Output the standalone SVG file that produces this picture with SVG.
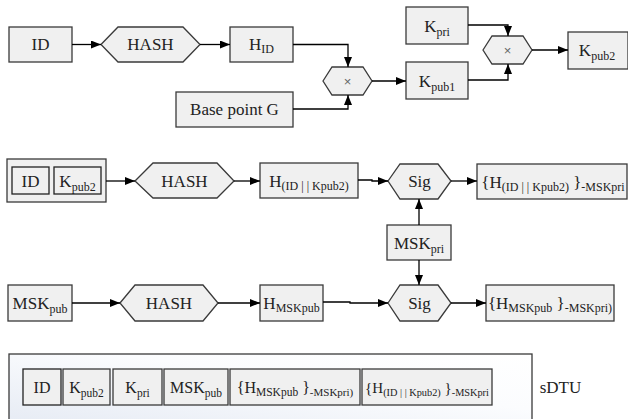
<svg xmlns="http://www.w3.org/2000/svg" width="628" height="419" viewBox="0 0 628 419">
  <defs>
    <marker id="arr" viewBox="0 0 10 8" refX="10" refY="4" markerWidth="10" markerHeight="8" markerUnits="userSpaceOnUse" orient="auto">
      <path d="M0,0 L10,4 L0,8 Z" fill="#000"/>
    </marker>
    <linearGradient id="pane" x1="0" y1="1" x2="1" y2="0">
      <stop offset="0" stop-color="#e6ebf4"/>
      <stop offset="0.6" stop-color="#fbfcfe"/>
      <stop offset="1" stop-color="#ffffff"/>
    </linearGradient>
  </defs>
  <style>
    .box { fill: #f0f0f0; stroke: #3a3a3a; stroke-width: 1.3; }
    .inner { fill: #f0f0f0; stroke: #222; stroke-width: 1.3; }
    .hex { fill: #f0f0f0; stroke: #3a3a3a; stroke-width: 1.3; }
    .wire { fill: none; stroke: #000; stroke-width: 1.3; marker-end: url(#arr); }
  </style>

  <!-- all labels share one serif face, centred on their node -->
  <g font-family="Liberation Serif" font-size="17" fill="#222" text-anchor="middle">
  <!-- key derivation -->
  <g id="id1">
    <rect class="box" x="9" y="27" width="63" height="35"/>
    <text x="40.5" y="50">ID</text>
  </g>
  <g id="hash1">
    <polygon class="hex" points="101,44.5 118,27 183,27 200,44.5 183,62 118,62"/>
    <text x="150.5" y="50">HASH</text>
  </g>
  <g id="hid">
    <rect class="box" x="230" y="27" width="63" height="35"/>
    <text x="261.5" y="50">H<tspan font-size="12" dy="3">ID</tspan></text>
  </g>
  <g id="basepoint">
    <rect class="box" x="176" y="92" width="117" height="35"/>
    <text x="234.5" y="115">Base point G</text>
  </g>
  <g id="mul1">
    <polygon class="hex" points="323,81 332,67 363,67 372,81 363,95 332,95"/>
    <text x="347.5" y="85.5" font-family="Liberation Sans" font-size="13" fill="#666">×</text>
  </g>
  <g id="kpub1">
    <rect class="box" x="406" y="62" width="62" height="37"/>
    <text x="437" y="86.5">K<tspan font-size="12" dy="4">pub1</tspan></text>
  </g>
  <g id="kpri">
    <rect class="box" x="406" y="7" width="62" height="37"/>
    <text x="437" y="31.5">K<tspan font-size="12" dy="4">pri</tspan></text>
  </g>
  <g id="mul2">
    <polygon class="hex" points="483,50 492,36 523,36 532,50 523,64 492,64"/>
    <text x="507.5" y="54.5" font-family="Liberation Sans" font-size="13" fill="#666">×</text>
  </g>
  <g id="kpub2">
    <rect class="box" x="568" y="32" width="60" height="37"/>
    <text x="597" y="56">K<tspan font-size="12" dy="4">pub2</tspan></text>
  </g>

  <!-- identity signature -->
  <g id="idpair">
    <rect class="box" x="7" y="159" width="99" height="43"/>
    <rect class="inner" x="12" y="167" width="37" height="27"/>
    <text x="30.5" y="186.5">ID</text>
    <rect class="inner" x="54" y="167" width="47" height="27"/>
    <text x="77.5" y="186.5">K<tspan font-size="12" dy="4">pub2</tspan></text>
  </g>
  <g id="hash2">
    <polygon class="hex" points="135,181 153,163 217,163 234,181 217,198 153,198"/>
    <text x="184.5" y="187">HASH</text>
  </g>
  <g id="hidk">
    <rect class="box" x="260" y="163" width="98" height="35"/>
    <text x="309" y="186.5">H<tspan font-size="12" dy="3">(ID | | Kpub2)</tspan></text>
  </g>
  <g id="sig1">
    <polygon class="hex" points="388,181 400,164 438,164 451,181 438,199 400,199"/>
    <text x="419.5" y="187">Sig</text>
  </g>
  <g id="sigid">
    <rect class="box" x="477" y="164" width="150" height="35"/>
    <text x="553" y="187.5">{H<tspan font-size="12" dy="3">(ID | | Kpub2)</tspan><tspan dy="-3"> }</tspan><tspan font-size="12" dy="3">-MSKpri</tspan></text>
  </g>
  <g id="mskpri">
    <rect class="box" x="387" y="225" width="64" height="35"/>
    <text x="419" y="248.5">MSK<tspan font-size="12" dy="4">pri</tspan></text>
  </g>

  <!-- master key signature -->
  <g id="mskpub">
    <rect class="box" x="8" y="285" width="64" height="36"/>
    <text x="40" y="308.5">MSK<tspan font-size="12" dy="4">pub</tspan></text>
  </g>
  <g id="hash3">
    <polygon class="hex" points="120,303 135,285 203,285 218,303 203,321 135,321"/>
    <text x="169" y="309">HASH</text>
  </g>
  <g id="hmsk">
    <rect class="box" x="260" y="285" width="63" height="36"/>
    <text x="291.5" y="308.5">H<tspan font-size="12" dy="3">MSKpub</tspan></text>
  </g>
  <g id="sig2">
    <polygon class="hex" points="388,303 400,285 438,285 451,303 438,321 400,321"/>
    <text x="419.5" y="309">Sig</text>
  </g>
  <g id="sigmsk">
    <rect class="box" x="486" y="285" width="128" height="36"/>
    <text x="550" y="309">{H<tspan font-size="12" dy="3">MSKpub</tspan><tspan dy="-3"> }</tspan><tspan font-size="12" dy="3">-MSKpri)</tspan></text>
  </g>

  <!-- sDTU bundle -->
  <g id="sdtu">
    <rect x="9" y="354" width="523" height="70" fill="url(#pane)" stroke="#3a3a3a" stroke-width="1.3"/>
    <rect class="inner" x="23" y="369" width="38" height="36"/>
    <text x="42" y="392.5" font-size="16">ID</text>
    <rect class="box" x="63" y="369" width="47" height="36"/>
    <text x="86.5" y="392.5" font-size="16">K<tspan font-size="11.5" dy="4">pub2</tspan></text>
    <rect class="box" x="113" y="369" width="49" height="36"/>
    <text x="137.5" y="392.5" font-size="16">K<tspan font-size="11.5" dy="4">pri</tspan></text>
    <rect class="box" x="164" y="369" width="64" height="36"/>
    <text x="196" y="392.5" font-size="16">MSK<tspan font-size="11.5" dy="4">pub</tspan></text>
    <rect class="box" x="230" y="369" width="130" height="36"/>
    <text x="295" y="392.5" font-size="16">{H<tspan font-size="11.5" dy="3">MSKpub</tspan><tspan dy="-3"> }</tspan><tspan font-size="11" dy="3">-MSKpri)</tspan></text>
    <rect class="box" x="362" y="369" width="130" height="36"/>
    <text x="427" y="392.5" font-size="15">{H<tspan font-size="10.3" dy="3">(ID | | Kpub2)</tspan><tspan dy="-3"> }</tspan><tspan font-size="10.3" dy="3">-MSKpri</tspan></text>
    <text x="560.5" y="393">sDTU</text>
  </g>
  </g>

  <g id="connectors">
    <path class="wire" d="M72,44.5 H101"/>
    <path class="wire" d="M200,44.5 H230"/>
    <path class="wire" d="M293,44.5 H348 V67"/>
    <path class="wire" d="M293,109 H348 V95"/>
    <path class="wire" d="M372,81 H406"/>
    <path class="wire" d="M468,25 H508 V36"/>
    <path class="wire" d="M468,80 H508 V64"/>
    <path class="wire" d="M532,50 H568"/>

    <path class="wire" d="M106,181 H135"/>
    <path class="wire" d="M234,181 H260"/>
    <path class="wire" d="M358,180 H372 V181 H388"/>
    <path class="wire" d="M451,181 H477"/>
    <path class="wire" d="M419,225 V199"/>
    <path class="wire" d="M419,260 V285"/>

    <path class="wire" d="M72,303 H120"/>
    <path class="wire" d="M218,303 H260"/>
    <path class="wire" d="M323,302 H350 V303 H388"/>
    <path class="wire" d="M451,303 H486"/>
  </g>
</svg>
